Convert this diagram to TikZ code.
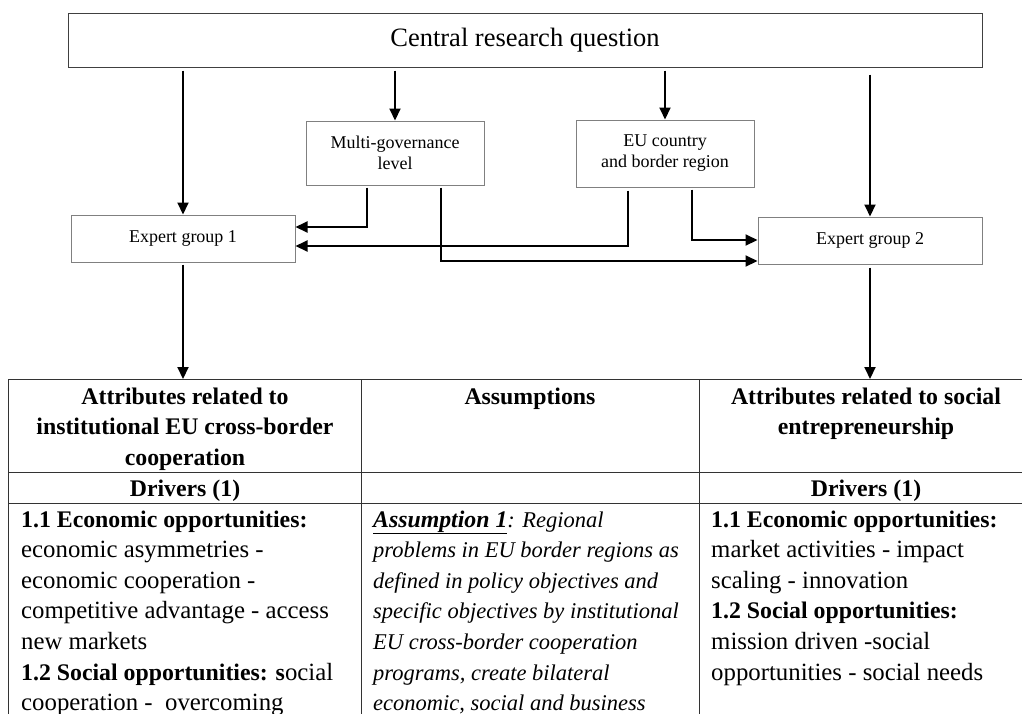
\documentclass[tikz,border=0pt]{standalone}
\usepackage{fontspec}
\setmainfont{Liberation Serif}
\newfontfamily\timesf{Liberation Serif}
\usetikzlibrary{arrows.meta}
\begin{document}
\begin{tikzpicture}[x=1pt,y=-1pt,
  box/.style={draw=black!50, line width=1pt, fill=white, inner sep=0pt, align=center},
  arr/.style={line width=2pt, -{Triangle[length=12pt,width=11pt]}},
  cell/.style={draw=black!80, line width=1.3pt, inner sep=0pt, anchor=north west},
  tl/.style={anchor=base west, inner sep=0pt, font=\rmfamily\mdseries\upshape\fontsize{24.8}{30.6}\selectfont},
  tli/.style={anchor=base west, inner sep=0pt, font=\rmfamily\fontsize{22.5}{30.6}\selectfont\itshape},
  tc/.style={anchor=base, inner sep=0pt, font=\rmfamily\fontsize{23.8}{30.6}\selectfont\bfseries},
  bd/.style={font=\rmfamily\fontsize{23.8}{30.6}\selectfont\bfseries},
  ]
\useasboundingbox (0,0) rectangle (1022,713);

% upper boxes
\node[box, draw=black!75, minimum width=914pt, minimum height=54pt, font=\timesf\fontsize{26.5}{30}\selectfont] (top) at (525,40) {Central research question};
\node[box, minimum width=178pt, minimum height=64pt, font=\timesf\fontsize{18}{21}\selectfont] (mg) at (395,153) {Multi-governance\\level};
\node[box, minimum width=178pt, minimum height=67pt, font=\timesf\fontsize{18}{21}\selectfont] (eu) at (665,153.5) {EU country\\and border region};
\node[box, minimum width=224pt, minimum height=47pt, font=\timesf\fontsize{18}{21}\selectfont] (eg1) at (183,238.5) {Expert group 1};
\node[box, minimum width=224pt, minimum height=47pt, font=\timesf\fontsize{18}{21}\selectfont] (eg2) at (870,240.5) {Expert group 2};

% table cells
\node[cell, minimum width=353pt, minimum height=93pt] (h1) at (8,379) {};
\node[cell, minimum width=338pt, minimum height=93pt] (h2) at (361,379) {};
\node[cell, minimum width=334pt, minimum height=93pt] (h3) at (699,379) {};
\node[cell, minimum width=353pt, minimum height=31pt] (d1) at (8,472) {};
\node[cell, minimum width=338pt, minimum height=31pt] (d2) at (361,472) {};
\node[cell, minimum width=334pt, minimum height=31pt] (d3) at (699,472) {};
\node[cell, minimum width=353pt, minimum height=240pt] (b1) at (8,503) {};
\node[cell, minimum width=338pt, minimum height=240pt] (b2) at (361,503) {};
\node[cell, minimum width=334pt, minimum height=240pt] (b3) at (699,503) {};

% arrows from the central question
\draw[arr] ([yshift=-3pt]top.south -| eg1.north) -- (eg1.north);
\draw[arr] ([yshift=-3pt]top.south -| mg.north) -- (mg.north);
\draw[arr] ([yshift=-3pt]top.south -| eu.north) -- (eu.north);
\draw[arr] ([yshift=-7pt]top.south -| eg2.north) -- (eg2.north);

% elbow connectors
\draw[arr] ([xshift=-28pt,yshift=-2pt]mg.south) |- ([yshift=11.5pt]eg1.east);
\draw[arr] ([xshift=-37pt,yshift=-3pt]eu.south) |- ([yshift=-7.5pt]eg1.east);
\draw[arr] ([xshift=46pt,yshift=-2pt]mg.south) |- ([yshift=-20.5pt]eg2.west);
\draw[arr] ([xshift=27pt,yshift=-2pt]eu.south) |- ([yshift=0.5pt]eg2.west);

% arrows into the table
\draw[arr] ([yshift=-2pt]eg1.south) -- (eg1.south |- h1.north);
\draw[arr] ([yshift=-3pt]eg2.south) -- (eg2.south |- h3.north);

% header texts
\node[tc] (t1a) at (185,404) {Attributes related to};
\node[tc] (t1b) at (185,434.6) {institutional EU cross-border};
\node[tc] (t1c) at (185,465.2) {cooperation};
\node[tc] (t2a) at (530,404) {Assumptions};
\node[tc] (t3a) at (866,404) {Attributes related to social};
\node[tc] (t3b) at (866,434.6) {entrepreneurship};
\node[tc] (dr1) at (185,496) {Drivers (1)};
\node[tc] (dr3) at (866,496) {Drivers (1)};

% column 1 body
\node[tl, bd] (c1a) at (21,527) {1.1 Economic opportunities:};
\node[tl] (c1b) at (21,557.6) {economic asymmetries -};
\node[tl] (c1c) at (21,588.2) {economic cooperation -};
\node[tl] (c1d) at (21,618.8) {competitive advantage - access};
\node[tl] (c1e) at (21,649.4) {new markets};
\node[tl] (c1f) at (21,680) {{\fontsize{23.8}{30.6}\selectfont\bfseries 1.2 Social opportunities: s}ocial};
\node[tl] (c1g) at (21,710.6) {cooperation -\ \ overcoming};

% column 2 body
\node[tli] (c2a) at (373,527) {\underline{{\fontsize{23.8}{30.6}\selectfont\bfseries\itshape Assumption 1}}: Regional};
\node[tli] (c2b) at (373,557.6) {problems in EU border regions as};
\node[tli] (c2c) at (373,588.2) {defined in policy objectives and};
\node[tli] (c2d) at (373,618.8) {specific objectives by institutional};
\node[tli] (c2e) at (373,649.4) {EU cross-border cooperation};
\node[tli] (c2f) at (373,680) {programs, create bilateral};
\node[tli] (c2g) at (373,710.6) {economic, social and business};

% column 3 body
\node[tl, bd] (c3a) at (711,527) {1.1 Economic opportunities:};
\node[tl] (c3b) at (711,557.6) {market activities - impact};
\node[tl] (c3c) at (711,588.2) {scaling - innovation};
\node[tl, bd] (c3d) at (711,618.8) {1.2 Social opportunities:};
\node[tl] (c3e) at (711,649.4) {mission driven -social};
\node[tl] (c3f) at (711,680) {opportunities - social needs};
\end{tikzpicture}
\end{document}
